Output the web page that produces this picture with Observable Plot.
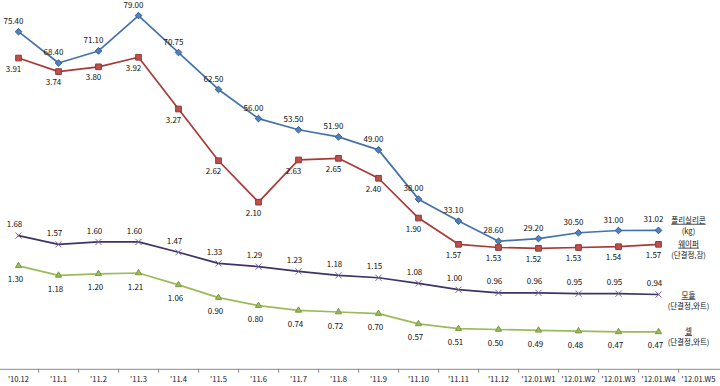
<!DOCTYPE html>
<html>
<head>
<meta charset="utf-8">
<script src="https://cdn.jsdelivr.net/npm/d3@7"></script>
<script src="https://cdn.jsdelivr.net/npm/@observablehq/plot@0.6"></script>
<style>
  html, body { margin: 0; padding: 0; background: #fff; }
  #chart svg { display: block; }
</style>
</head>
<body>
<div id="chart"></div>
<script>
// ---- data ----
const periods = ["'10.12", "'11.1", "'11.2", "'11.3", "'11.4", "'11.5", "'11.6", "'11.7", "'11.8", "'11.9", "'11.10", "'11.11", "'11.12", "'12.01.W1", "'12.01.W2", "'12.01.W3", "'12.01.W4", "'12.01.W5"];
const polysilicon = [75.40, 68.40, 71.10, 79.00, 70.75, 62.50, 56.00, 53.50, 51.90, 49.00, 38.00, 33.10, 28.60, 29.20, 30.50, 31.00, 31.02];
const wafer       = [3.91, 3.74, 3.80, 3.92, 3.27, 2.62, 2.10, 2.63, 2.65, 2.40, 1.90, 1.57, 1.53, 1.52, 1.53, 1.54, 1.57];
const moduleP     = [1.68, 1.57, 1.60, 1.60, 1.47, 1.33, 1.29, 1.23, 1.18, 1.15, 1.08, 1.00, 0.96, 0.96, 0.95, 0.95, 0.94];
const cell        = [1.30, 1.18, 1.20, 1.21, 1.06, 0.90, 0.80, 0.74, 0.72, 0.70, 0.57, 0.51, 0.50, 0.49, 0.48, 0.47, 0.47];
const seriesNames = ["폴리실리콘", "웨이퍼", "모듈", "셀"];
const seriesUnits = ["(kg)", "(단결정,장)", "(단결정,와트)", "(단결정,와트)"];
const primaryMax = 80;    // left (kg) axis maximum
const secondaryMax = 4.5; // right axis maximum

// ---- styles (not data) ----
const styles = [
  {line: "#4372aa", fill: "#4F81BD", stroke: "#385D8A", symbol: "diamond2", r: 3,   lx: -5, ly: -10.5, nameDy: -10},
  {line: "#a83a37", fill: "#C0504D", stroke: "#8C3836", symbol: "square",   r: 3.2, lx: -5, ly: 11,  nameDy: 0},
  {line: "#3f3264", fill: "none",    stroke: "#7566a0", symbol: "times",    r: 2.9, lx: -4, ly: -11, nameDy: 1},
  {line: "#9BBB59", fill: "#9BBB59", stroke: "#7a9a3e", symbol: "triangle", r: 2.3, lx: -3, ly: 14,  nameDy: 0}
];

const seriesValues = [polysilicon, wafer, moduleP, cell];
const scaleFactor = [secondaryMax / primaryMax, 1, 1, 1];

const rows = [];
seriesValues.forEach((vals, s) => {
  vals.forEach((v, i) => rows.push({series: s, period: periods[i], value: v, y: v * scaleFactor[s]}));
});
const lastRows = seriesValues.map((vals, s) => ({
  series: s, period: periods[periods.length - 1], y: vals[vals.length - 1] * scaleFactor[s]
}));

const W = 720, H = 386;
const mL = 15.6, mR = 19.6, mT = 10.6, mB = 17.2;
const step = (W - mL - mR) / (periods.length - 1);
const font = "'Noto Sans CJK KR', 'Noto Sans', sans-serif";

const marks = [
  Plot.ruleY([0], {stroke: "#8a8a8a", strokeWidth: 1, insetLeft: -mL, insetRight: -mR}),
  Plot.ruleX(periods.slice(0, -1), {x: d => d, dx: step / 2, y1: 0, y2: 0, insetBottom: -4, stroke: "#8a8a8a"})
];
styles.forEach((st, s) => {
  const data = rows.filter(d => d.series === s);
  marks.push(Plot.line(data, {x: "period", y: "y", stroke: st.line, strokeWidth: 1.7}));
});
styles.forEach((st, s) => {
  const data = rows.filter(d => d.series === s);
  marks.push(Plot.dot(data, {x: "period", y: "y", symbol: st.symbol, r: st.r, fill: st.fill, stroke: st.stroke, strokeWidth: 1}));
  marks.push(Plot.text(data, {x: "period", y: "y", text: d => d3.format(".2f")(d.value), dx: st.lx, dy: st.ly, fontSize: 8, fill: "#111"}));
  const lr = [lastRows[s]];
  marks.push(Plot.text(lr, {x: "period", y: "y", text: () => seriesNames[s], dx: -10, dy: st.nameDy, fontSize: 7.5, fill: "#111"}));
  marks.push(Plot.text(lr, {x: "period", y: "y", text: () => seriesUnits[s], dx: -10, dy: st.nameDy + 11, fontSize: 7.5, fill: "#111"}));
});

const chart = Plot.plot({
  width: W,
  height: H,
  marginLeft: mL,
  marginRight: mR,
  marginTop: mT,
  marginBottom: mB,
  style: {fontFamily: font, fontSize: "7.6px", background: "#fff", color: "#111"},
  x: {type: "point", domain: periods, padding: 0, tickSize: 0, tickPadding: 7, label: null},
  y: {domain: [0, secondaryMax], axis: null},
  marks
});

d3.select(chart).selectAll("text").each(function() {
  if (seriesNames.includes(this.textContent)) d3.select(this).style("text-decoration", "underline");
});
document.getElementById("chart").appendChild(chart);
</script>
</body>
</html>
